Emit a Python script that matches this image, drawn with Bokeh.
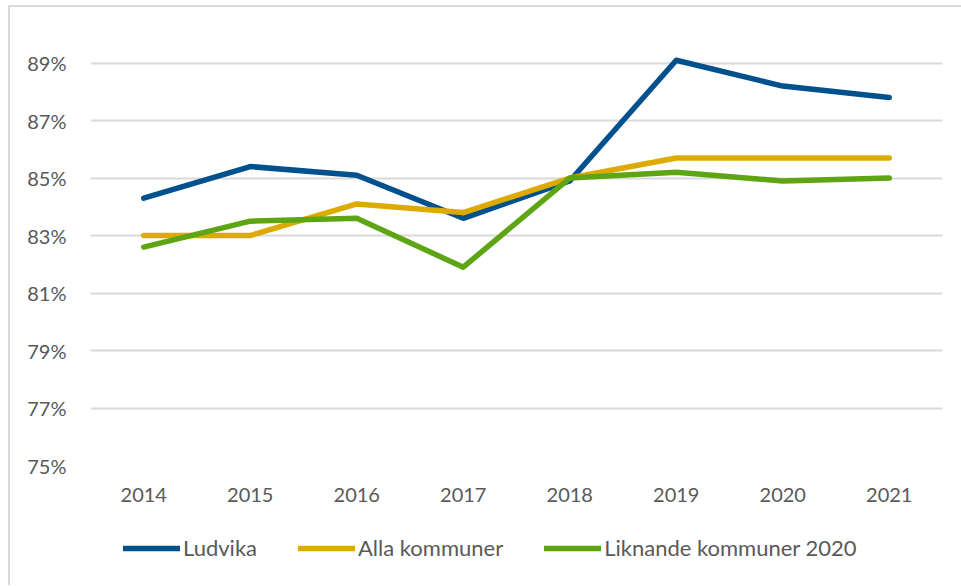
from bokeh.plotting import figure
from bokeh.layouts import column
from bokeh.models import Legend, LegendItem, FixedTicker, Range1d, CustomJSTickFormatter
from bokeh.embed import file_html
from bokeh.resources import INLINE

years = ["2014", "2015", "2016", "2017", "2018", "2019", "2020", "2021"]
ludvika = [84.3, 85.4, 85.1, 83.6, 84.9, 89.1, 88.2, 87.8]
alla = [83.0, 83.0, 84.1, 83.8, 85.0, 85.7, 85.7, 85.7]
liknande = [82.6, 83.5, 83.6, 81.9, 85.0, 85.2, 84.9, 85.0]
series_names = ["Ludvika", "Alla kommuner", "Liknande kommuner 2020"]
y_ticks = [75, 77, 79, 81, 83, 85, 87, 89]

FONT = "Lato"
TXT = "#595959"
COLORS = ["#00518E", "#DDAB00", "#5EA513"]
SERIES = [ludvika, alla, liknande]

p = figure(x_range=years, width=951, height=508, output_backend="svg",
           toolbar_location=None, min_border_left=80, min_border_right=19,
           min_border_top=3, min_border_bottom=50)
p.y_range = Range1d(75, 90.83)
p.outline_line_color = None

for vals, c in zip(SERIES, COLORS):
    p.line(years, vals, line_color=c, line_width=5.5, line_cap="round", line_join="round")

p.xgrid.grid_line_color = None
p.ygrid.grid_line_color = "#d9d9d9"
p.ygrid.grid_line_width = 2
p.yaxis.ticker = FixedTicker(ticks=y_ticks)
p.yaxis.formatter = CustomJSTickFormatter(code="return tick.toFixed(0) + '%';")

for ax in (p.xaxis, p.yaxis):
    ax.axis_line_color = None
    ax.major_tick_line_color = None
    ax.minor_tick_line_color = None
    ax.major_label_text_font = FONT
    ax.major_label_text_font_size = "20px"
    ax.major_label_text_color = TXT
p.yaxis.major_label_standoff = 18
p.xaxis.major_label_standoff = 16

# legend strip (series lines lie outside its visible y range; only the legend shows)
lf = figure(x_range=years, width=951, height=70, output_backend="svg", toolbar_location=None,
            x_axis_type=None, y_axis_type=None, min_border=0,
            y_range=Range1d(0, 1))
lf.outline_line_color = None
lf.xgrid.grid_line_color = None
lf.ygrid.grid_line_color = None
items = []
for name, vals, c in zip(series_names, SERIES, COLORS):
    r = lf.line(years, vals, line_color=c, line_width=5.5, line_cap="round")
    items.append(LegendItem(label=name, renderers=[r]))
legend = Legend(items=items, orientation="horizontal", location=(33, 24),
                glyph_width=57, glyph_height=20, label_standoff=3, spacing=41,
                label_text_font=FONT, label_text_font_size="22px", label_text_color=TXT,
                border_line_color=None, background_fill_alpha=0, padding=0, margin=0)
lf.add_layout(legend, "center")

layout = column(p, lf, spacing=0, margin=(5, 0, 0, 8),
                styles={"border-left": "2px solid #d9d9d9", "border-top": "2px solid #d9d9d9"})

open("out.html", "w").write(file_html(layout, INLINE))
